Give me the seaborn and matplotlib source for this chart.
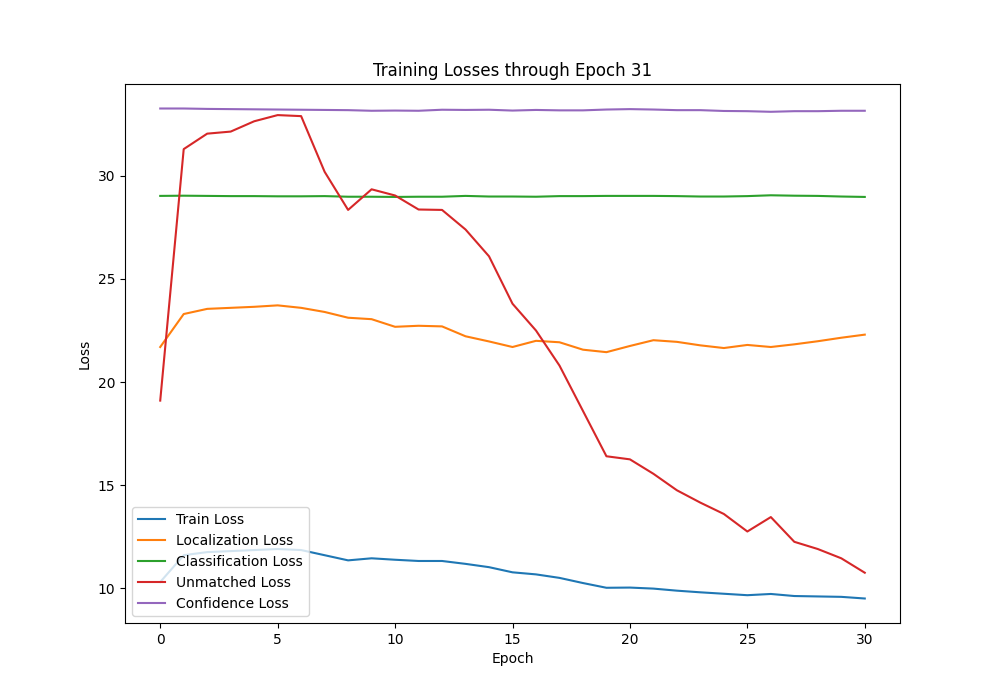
import matplotlib
matplotlib.use("Agg")
import matplotlib.pyplot as plt
import seaborn as sns
import numpy as np

epochs = list(range(31))
train = [10.3,11.6,11.75,11.8,11.85,11.9,11.85,11.6,11.35,11.45,11.38,11.32,11.32,11.18,11.02,10.77,10.67,10.5,10.25,10.02,10.03,9.98,9.88,9.8,9.73,9.66,9.72,9.62,9.6,9.58,9.5]
loc = [21.7,23.3,23.55,23.6,23.65,23.72,23.6,23.4,23.12,23.05,22.68,22.73,22.7,22.22,21.97,21.7,22.0,21.93,21.57,21.45,21.75,22.03,21.95,21.78,21.65,21.8,21.7,21.83,21.98,22.15,22.3]
cls = [29.03,29.04,29.03,29.02,29.02,29.01,29.01,29.02,28.99,28.99,28.98,28.99,28.99,29.03,29.0,29.0,28.99,29.02,29.02,29.03,29.03,29.03,29.02,29.0,29.0,29.02,29.06,29.04,29.03,29.0,28.98]
unm = [19.1,31.3,32.05,32.15,32.65,32.95,32.9,30.2,28.35,29.35,29.05,28.37,28.35,27.4,26.1,23.8,22.5,20.8,18.6,16.4,16.25,15.55,14.75,14.15,13.6,12.75,13.45,12.25,11.9,11.45,10.75]
conf = [33.27,33.27,33.25,33.24,33.23,33.22,33.21,33.2,33.19,33.16,33.17,33.16,33.21,33.2,33.21,33.17,33.2,33.18,33.18,33.22,33.24,33.22,33.19,33.19,33.15,33.14,33.11,33.14,33.14,33.16,33.16]

series = [("Train Loss", train), ("Localization Loss", loc), ("Classification Loss", cls),
          ("Unmatched Loss", unm), ("Confidence Loss", conf)]
colors = ["#1f77b4", "#ff7f0e", "#2ca02c", "#d62728", "#9467bd"]

fig, ax = plt.subplots(figsize=(10, 7), dpi=100)
for (name, vals), c in zip(series, colors):
    sns.lineplot(x=epochs, y=vals, ax=ax, label=name, color=c)
ax.set_title("Training Losses through Epoch 31")
ax.set_xlabel("Epoch")
ax.set_ylabel("Loss")
ax.legend(loc="lower left")
fig.savefig("out.png")
